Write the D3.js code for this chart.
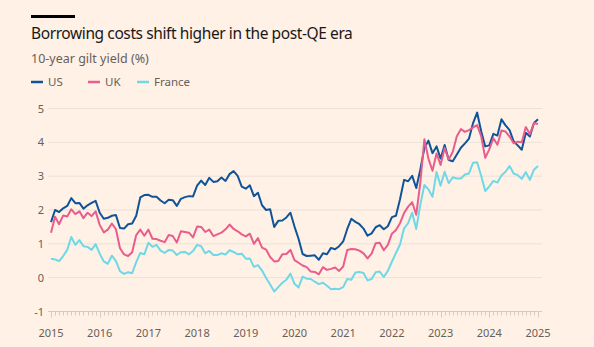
<!DOCTYPE html>
<html>
<head>
<meta charset="utf-8">
<script src="https://cdn.jsdelivr.net/npm/d3@7"></script>
<style>
  body { margin: 0; background: #fff1e5; }
  svg { display: block; font-family: "Noto Sans", sans-serif; }
</style>
</head>
<body>
<svg id="chart" width="594" height="347"></svg>
<script>
// month-end 10-year yields, Jan 2015 .. Jan 2025
var startYear = 2015;
var yearTicks = [2015, 2016, 2017, 2018, 2019, 2020, 2021, 2022, 2023, 2024, 2025];
var yTicks = [-1, 0, 1, 2, 3, 4, 5];

var us = [
  1.64, 2.00, 1.94, 2.05, 2.12, 2.35, 2.20, 2.21, 2.04, 2.14, 2.21, 2.27,
  1.92, 1.74, 1.77, 1.83, 1.85, 1.47, 1.45, 1.58, 1.60, 1.83, 2.37, 2.44,
  2.45, 2.39, 2.39, 2.28, 2.20, 2.30, 2.29, 2.12, 2.33, 2.38, 2.41, 2.40,
  2.72, 2.87, 2.74, 2.95, 2.83, 2.85, 2.96, 2.86, 3.06, 3.15, 3.01, 2.69,
  2.63, 2.73, 2.41, 2.51, 2.14, 2.00, 2.02, 1.50, 1.68, 1.69, 1.78, 1.92,
  1.51, 1.15, 0.70, 0.64, 0.65, 0.66, 0.53, 0.72, 0.69, 0.88, 0.84, 0.93,
  1.07, 1.44, 1.74, 1.65, 1.58, 1.45, 1.24, 1.31, 1.49, 1.55, 1.43, 1.52,
  1.79, 1.83, 2.32, 2.89, 2.85, 3.01, 2.65, 3.19, 3.83, 4.05, 3.68, 3.88,
  3.52, 3.92, 3.48, 3.44, 3.64, 3.84, 3.97, 4.11, 4.57, 4.88, 4.33, 3.88,
  3.91, 4.25, 4.20, 4.68, 4.50, 4.36, 4.03, 3.91, 3.78, 4.28, 4.17, 4.57,
  4.68
];
var uk = [
  1.33, 1.80, 1.58, 1.84, 1.81, 2.02, 1.88, 1.96, 1.76, 1.92, 1.82, 1.96,
  1.56, 1.34, 1.42, 1.60, 1.43, 0.87, 0.69, 0.64, 0.75, 1.26, 1.42, 1.24,
  1.42, 1.15, 1.14, 1.09, 1.05, 1.26, 1.23, 1.04, 1.37, 1.35, 1.33, 1.19,
  1.51, 1.50, 1.35, 1.42, 1.23, 1.28, 1.33, 1.43, 1.57, 1.44, 1.37, 1.28,
  1.22, 1.30, 1.00, 1.17, 0.89, 0.83, 0.61, 0.48, 0.49, 0.69, 0.70, 0.82,
  0.52, 0.44, 0.36, 0.31, 0.18, 0.17, 0.10, 0.31, 0.23, 0.26, 0.30, 0.20,
  0.33, 0.82, 0.85, 0.84, 0.80, 0.72, 0.57, 0.71, 1.02, 1.03, 0.81, 0.97,
  1.30, 1.41, 1.61, 1.91, 2.10, 2.23, 1.86, 2.80, 4.09, 3.52, 3.16, 3.67,
  3.33, 3.83, 3.49, 3.72, 4.18, 4.39, 4.31, 4.36, 4.44, 4.51, 4.18, 3.54,
  3.79, 4.12, 3.93, 4.35, 4.32, 4.17, 3.97, 4.02, 4.00, 4.45, 4.24, 4.57,
  4.54
];
var france = [
  0.56, 0.54, 0.49, 0.64, 0.82, 1.20, 0.97, 1.11, 0.93, 0.91, 0.82, 0.99,
  0.71, 0.48, 0.41, 0.65, 0.49, 0.19, 0.11, 0.16, 0.13, 0.46, 0.73, 0.69,
  1.03, 0.91, 0.97, 0.80, 0.73, 0.82, 0.80, 0.67, 0.75, 0.76, 0.69, 0.79,
  0.97, 0.93, 0.72, 0.79, 0.67, 0.67, 0.72, 0.68, 0.81, 0.76, 0.69, 0.71,
  0.56, 0.57, 0.32, 0.37, 0.21, -0.01, -0.20, -0.41, -0.28, -0.15, -0.06, 0.12,
  -0.18, -0.29, 0.03, -0.03, -0.04, -0.12, -0.19, -0.15, -0.24, -0.34, -0.33, -0.34,
  -0.28, -0.04, -0.06, 0.15, 0.17, 0.14, -0.08, -0.04, 0.16, 0.18, 0.02, 0.20,
  0.47, 0.73, 0.98, 1.46, 1.61, 1.92, 1.44, 2.15, 2.74, 2.61, 2.39, 3.12,
  2.72, 3.13, 2.79, 2.97, 2.93, 2.93, 3.05, 3.08, 3.40, 3.41, 3.01, 2.56,
  2.70, 2.86, 2.81, 3.02, 3.13, 3.30, 3.08, 3.03, 2.92, 3.12, 2.89, 3.19,
  3.30
];

var series = [
  {name: "US", values: us, color: "#0f5499"},
  {name: "UK", values: uk, color: "#e95d8c"},
  {name: "France", values: france, color: "#6fd8e6"}
];

var svg = d3.select("#chart");
var textGrey = "#66605c";

var x = d3.scaleLinear().domain([2015, 2025]).range([51, 538]);
var y = d3.scaleLinear().domain([-1, 5]).range([311.5, 108.5]);

// top rule + titles
svg.append("rect").attr("x", 31).attr("y", 15).attr("width", 44).attr("height", 3).attr("fill", "#000");
svg.append("text").attr("x", 31).attr("y", 39)
  .attr("font-size", 15.5).attr("letter-spacing", -0.4).attr("fill", "#1a1817")
  .text("Borrowing costs shift higher in the post-QE era");
svg.append("text").attr("x", 31).attr("y", 63)
  .attr("font-size", 12.5).attr("fill", textGrey)
  .text("10-year gilt yield (%)");

// legend
var legendX = [31, 88, 137];
var legend = svg.append("g").selectAll("g").data(series).enter().append("g")
  .attr("transform", function(d, i) { return "translate(" + legendX[i] + ",82)"; });
legend.append("line").attr("x1", 0).attr("x2", 12).attr("y1", 0).attr("y2", 0)
  .attr("stroke", function(d) { return d.color; }).attr("stroke-width", 2.5);
legend.append("text").attr("x", 17).attr("y", 4)
  .attr("font-size", 11.5).attr("fill", textGrey)
  .text(function(d) { return d.name; });

// gridlines + y labels
svg.append("g").selectAll("line").data(yTicks.filter(function(t) { return t > -1; })).enter().append("line")
  .attr("x1", 48).attr("x2", 542)
  .attr("y1", function(d) { return y(d); }).attr("y2", function(d) { return y(d); })
  .attr("stroke", "#ebe1d8").attr("stroke-width", 1);
svg.append("g").selectAll("text").data(yTicks).enter().append("text")
  .attr("x", 44).attr("y", function(d) { return y(d) + 4; })
  .attr("text-anchor", "end").attr("font-size", 11).attr("fill", textGrey)
  .text(function(d) { return d; });

// x axis: baseline at -1 with monthly minor ticks
var axisY = y(-1);
var months = d3.range(0, 121).map(function(i) { return startYear + i / 12; });
svg.append("line").attr("x1", 48).attr("x2", 542).attr("y1", axisY).attr("y2", axisY)
  .attr("stroke", "#d6cbc1").attr("stroke-width", 1);
svg.append("g").selectAll("line").data(months).enter().append("line")
  .attr("x1", function(d) { return Math.round(x(d)) + 0.5; })
  .attr("x2", function(d) { return Math.round(x(d)) + 0.5; })
  .attr("y1", axisY).attr("y2", function(d, i) { return axisY + (i % 12 === 0 ? 6 : 4); })
  .attr("stroke", "#d6cbc1").attr("stroke-width", 1);
svg.append("g").selectAll("text").data(yearTicks).enter().append("text")
  .attr("x", function(d) { return x(d); }).attr("y", 337)
  .attr("text-anchor", "middle").attr("font-size", 11).attr("fill", textGrey)
  .text(function(d) { return d; });

// lines
var line = d3.line()
  .x(function(d, i) { return x(startYear + i / 12); })
  .y(function(d) { return y(d); });
svg.append("g").selectAll("path").data(series).enter().append("path")
  .attr("d", function(d) { return line(d.values); })
  .attr("fill", "none")
  .attr("stroke", function(d) { return d.color; })
  .attr("stroke-width", 2)
  .attr("stroke-linejoin", "round");
</script>
</body>
</html>
